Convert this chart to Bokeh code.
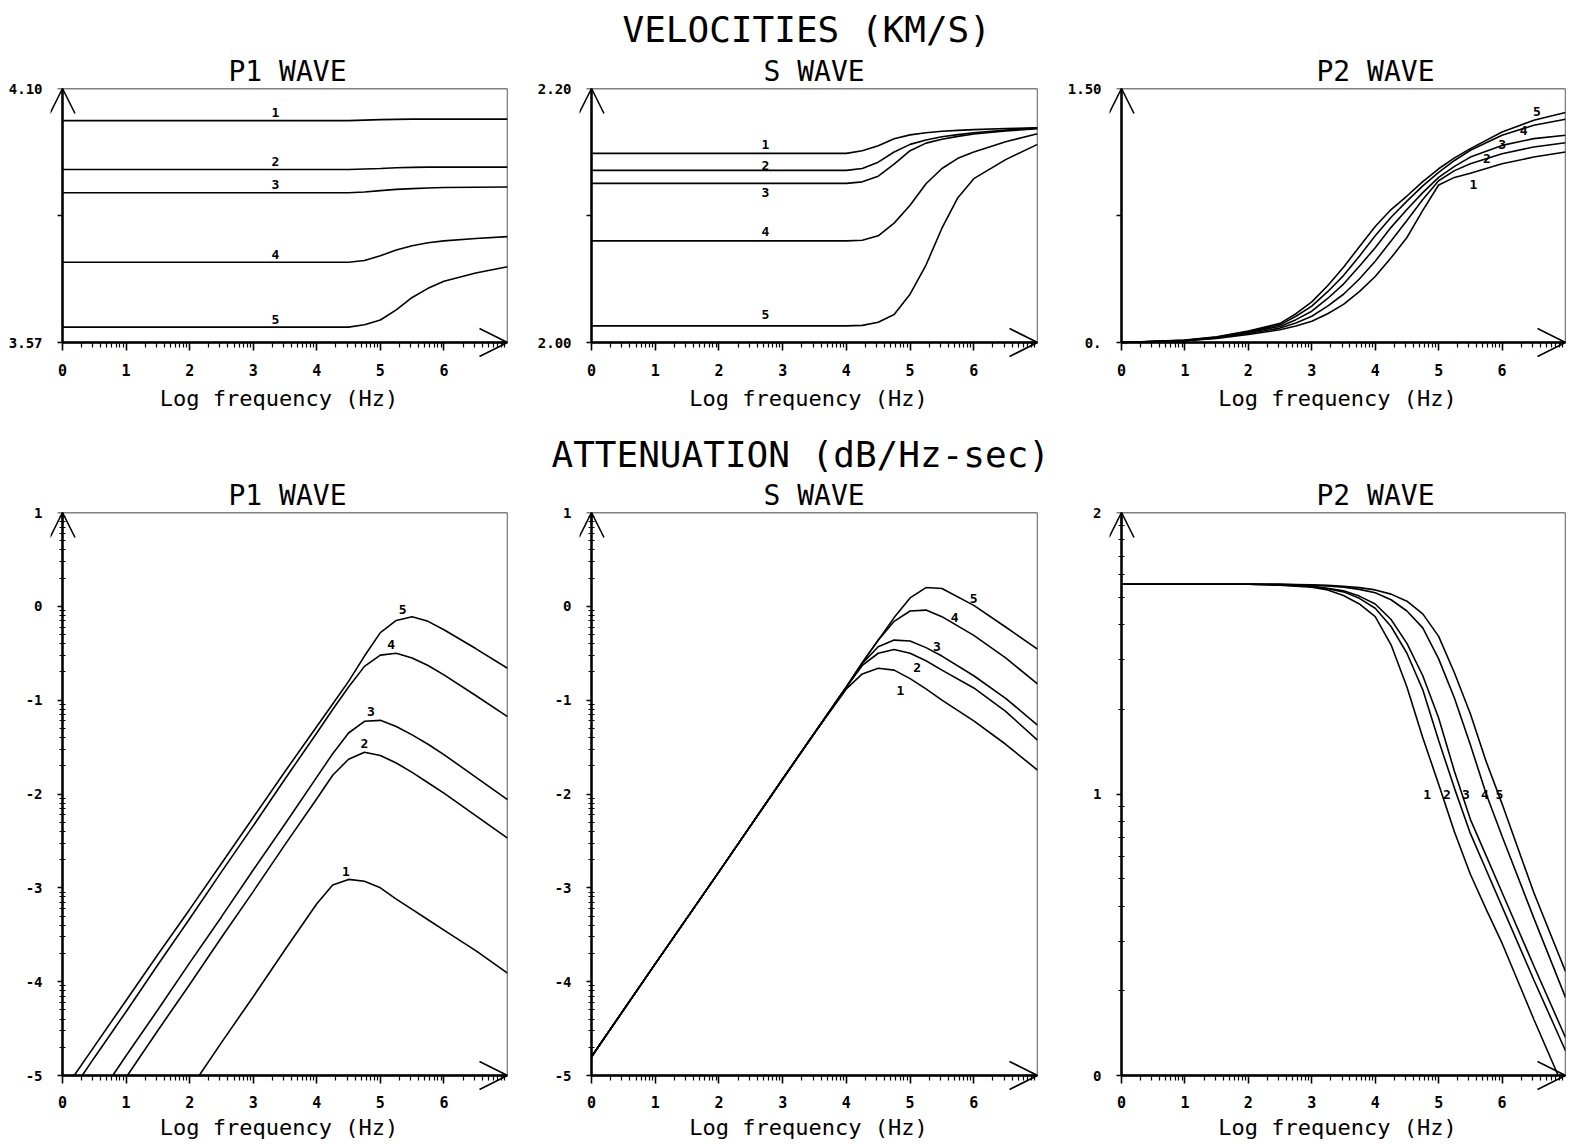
import math
from bokeh.plotting import figure
from bokeh.layouts import column, row
from bokeh.models import (Range1d, FixedTicker, Arrow, OpenHead, Title, LinearAxis,
                          ColumnDataSource, CustomJSTickFormatter)
from bokeh.core.properties import value
from bokeh.embed import file_html
from bokeh.resources import INLINE

NaN = float("nan")
FONT = "DejaVu Sans Mono"

# ---------------- data ----------------
curve_names = ["1", "2", "3", "4", "5"]
x_major = [0, 1, 2, 3, 4, 5, 6]
x_label = "Log frequency (Hz)"

# VELOCITIES (KM/S) - P1 wave
vp1_x = [0, 1, 2, 3, 4, 4.5, 4.75, 5.0, 5.25, 5.5, 5.75, 6.0, 6.5, 7.0]
vp1_1 = [4.033, 4.033, 4.033, 4.033, 4.033, 4.033, 4.034, 4.035, 4.0355, 4.036, 4.036, 4.036, 4.036, 4.036]
vp1_2 = [3.931, 3.931, 3.931, 3.931, 3.931, 3.931, 3.932, 3.933, 3.9345, 3.9355, 3.936, 3.936, 3.936, 3.936]
vp1_3 = [3.8826, 3.8826, 3.8826, 3.8826, 3.8826, 3.8826, 3.884, 3.887, 3.8895, 3.891, 3.8925, 3.8935, 3.894, 3.8945]
vp1_4 = [3.7374, 3.7374, 3.7374, 3.7374, 3.7374, 3.7374, 3.741, 3.751, 3.763, 3.772, 3.778, 3.782, 3.787, 3.791]
vp1_5 = [3.602, 3.602, 3.602, 3.602, 3.602, 3.602, 3.607, 3.617, 3.638, 3.664, 3.683, 3.698, 3.715, 3.728]
vp1_range = (3.57, 4.10)
vp1_tick_labels = ["3.57", "", "4.10"]

# VELOCITIES - S wave
vs_x = [0, 1, 2, 3, 4, 4.25, 4.5, 4.75, 5.0, 5.25, 5.5, 5.75, 6.0, 6.5, 7.0]
vs_1 = [2.1489, 2.1489, 2.1489, 2.1489, 2.1489, 2.151, 2.155, 2.1605, 2.1635, 2.1652, 2.1663, 2.167, 2.1676, 2.1685, 2.1691]
vs_2 = [2.1355, 2.1355, 2.1355, 2.1355, 2.1355, 2.137, 2.142, 2.150, 2.156, 2.1595, 2.162, 2.1637, 2.1652, 2.1672, 2.169]
vs_3 = [2.1253, 2.1253, 2.1253, 2.1253, 2.1253, 2.1265, 2.131, 2.1405, 2.151, 2.157, 2.160, 2.1623, 2.1642, 2.1665, 2.1683]
vs_4 = [2.080, 2.080, 2.080, 2.080, 2.080, 2.0805, 2.084, 2.094, 2.108, 2.125, 2.137, 2.145, 2.150, 2.158, 2.1644]
vs_5 = [2.0131, 2.0131, 2.0131, 2.0131, 2.0131, 2.0135, 2.016, 2.022, 2.038, 2.061, 2.090, 2.114, 2.129, 2.144, 2.156]
vs_range = (2.00, 2.20)
vs_tick_labels = ["2.00", "", "2.20"]

# VELOCITIES - P2 wave
vp2_x = [0, 1, 1.5, 2, 2.5, 2.75, 3, 3.25, 3.5, 3.75, 4, 4.25, 4.5, 4.75, 5, 5.25, 5.5, 6, 6.5, 7]
vp2_1 = [0, .010, .024, .047, .075, .097, .125, .17, .225, .30, .39, .50, .62, .78, .93, .975, 1.00, 1.056, 1.095, 1.125]
vp2_2 = [0, .011, .027, .053, .085, .115, .155, .215, .285, .375, .48, .60, .72, .845, .955, 1.015, 1.056, 1.115, 1.155, 1.18]
vp2_3 = [0, .012, .029, .060, .095, .135, .185, .26, .345, .45, .56, .68, .785, .885, .975, 1.04, 1.095, 1.164, 1.204, 1.224]
vp2_4 = [0, .013, .031, .064, .104, .155, .215, .30, .395, .51, .63, .74, .835, .925, 1.005, 1.075, 1.135, 1.224, 1.283, 1.318]
vp2_5 = [0, .014, .034, .068, .113, .17, .24, .335, .445, .565, .685, .785, .865, .95, 1.026, 1.09, 1.145, 1.243, 1.312, 1.358]
vp2_range = (0.0, 1.50)
vp2_tick_labels = ["0.", "", "1.50"]

# ATTENUATION (log10 dB/Hz-sec) - P1 wave
ap1_x = [0, 0.5, 1, 1.5, 2, 2.5, 3, 3.5, 4, 4.25, 4.5, 4.75, 5, 5.25, 5.5, 5.75, 6, 6.5, 7]
ap1_1 = [NaN, NaN, NaN, NaN, -5.15, -4.65, -4.16, -3.66, -3.17, -2.97, -2.91, -2.93, -3.00, -3.12, -3.23, -3.34, -3.45, -3.67, -3.91]
ap1_2 = [NaN, -5.50, -5.02, -4.52, -4.03, -3.53, -3.04, -2.54, -2.05, -1.80, -1.63, -1.555, -1.59, -1.67, -1.77, -1.88, -1.99, -2.23, -2.47]
ap1_3 = [-5.79, -5.29, -4.79, -4.30, -3.80, -3.31, -2.81, -2.32, -1.82, -1.57, -1.35, -1.225, -1.215, -1.28, -1.37, -1.47, -1.58, -1.82, -2.06]
ap1_4 = [-5.31, -4.81, -4.32, -3.82, -3.33, -2.83, -2.34, -1.84, -1.35, -1.10, -0.86, -0.64, -0.52, -0.50, -0.55, -0.63, -0.73, -0.95, -1.175]
ap1_5 = [-5.18, -4.69, -4.20, -3.71, -3.23, -2.74, -2.25, -1.76, -1.28, -1.04, -0.80, -0.53, -0.28, -0.15, -0.11, -0.16, -0.25, -0.45, -0.66]
ap1_range = (-5, 1)

# ATTENUATION - S wave
as_x = [0, 1, 2, 3, 3.5, 4, 4.25, 4.5, 4.75, 5, 5.25, 5.5, 6, 6.5, 7]
as_1 = [-4.80, -3.81, -2.83, -1.84, -1.35, -0.88, -0.72, -0.66, -0.68, -0.77, -0.88, -1.00, -1.22, -1.47, -1.745]
as_2 = [-4.80, -3.81, -2.83, -1.84, -1.35, -0.86, -0.63, -0.50, -0.46, -0.50, -0.58, -0.68, -0.87, -1.12, -1.425]
as_3 = [-4.80, -3.81, -2.83, -1.84, -1.35, -0.86, -0.61, -0.43, -0.36, -0.37, -0.44, -0.53, -0.74, -0.98, -1.265]
as_4 = [-4.80, -3.81, -2.83, -1.84, -1.35, -0.86, -0.60, -0.36, -0.16, -0.05, -0.04, -0.11, -0.31, -0.55, -0.827]
as_5 = [-4.80, -3.81, -2.83, -1.84, -1.35, -0.86, -0.60, -0.36, -0.12, 0.09, 0.20, 0.19, 0.01, -0.22, -0.457]
as_range = (-5, 1)

# ATTENUATION - P2 wave
ap2_x = [0, 1, 2, 2.5, 3, 3.25, 3.5, 3.75, 4, 4.25, 4.5, 4.75, 5, 5.25, 5.5, 5.75, 6, 6.5, 7]
ap2_1 = [1.745, 1.745, 1.745, 1.742, 1.735, 1.725, 1.705, 1.675, 1.63, 1.53, 1.38, 1.20, 1.035, 0.865, 0.715, 0.59, 0.47, 0.20, -0.06]
ap2_2 = [1.745, 1.745, 1.745, 1.743, 1.737, 1.729, 1.718, 1.695, 1.66, 1.595, 1.50, 1.37, 1.19, 1.02, 0.86, 0.73, 0.60, 0.34, 0.088]
ap2_3 = [1.745, 1.745, 1.745, 1.744, 1.738, 1.731, 1.722, 1.703, 1.675, 1.62, 1.535, 1.42, 1.27, 1.08, 0.91, 0.78, 0.65, 0.39, 0.135]
ap2_4 = [1.745, 1.745, 1.745, 1.745, 1.741, 1.739, 1.735, 1.727, 1.715, 1.69, 1.65, 1.59, 1.48, 1.34, 1.175, 1.0, 0.85, 0.56, 0.277]
ap2_5 = [1.745, 1.745, 1.745, 1.745, 1.743, 1.741, 1.738, 1.733, 1.725, 1.71, 1.685, 1.64, 1.56, 1.43, 1.285, 1.115, 0.965, 0.65, 0.37]
ap2_range = (0, 2)

# curve-label anchor x positions
vp1_lab_x = [3.35, 3.35, 3.35, 3.35, 3.35]
vs_lab_x = [2.73, 2.73, 2.73, 2.73, 2.73]
vp2_lab_x = [5.55, 5.76, 6.0, 6.34, 6.55]
ap1_lab_x = [4.46, 4.75, 4.85, 5.17, 5.35]
as_lab_x = [4.85, 5.11, 5.42, 5.70, 6.0]
ap2_lab_x = [4.82, 5.13, 5.43, 5.73, 5.96]
ap2_lab_y = [1.0, 1.0, 1.0, 1.0, 1.0]


def interp(x, xs, ys):
    pts = [(a, b) for a, b in zip(xs, ys) if not math.isnan(b)]
    for (x0, y0), (x1, y1) in zip(pts[:-1], pts[1:]):
        if x0 <= x <= x1:
            return y0 + (y1 - y0) * (x - x0) / (x1 - x0)
    return pts[-1][1]


def clip_below(xs, ys, ymin):
    """Cut a polyline at the lower edge of the plotting box."""
    ox, oy, prev = [], [], None
    for x, y in zip(xs, ys):
        if math.isnan(y):
            prev = None
            continue
        if prev is not None and (prev[1] < ymin) != (y < ymin):
            t = (ymin - prev[1]) / (y - prev[1])
            ox.append(prev[0] + t * (x - prev[0]))
            oy.append(ymin)
        if y >= ymin:
            ox.append(x)
            oy.append(y)
        prev = (x, y)
    return ox, oy


x_minor = [d + math.log10(m) for d in range(7) for m in range(2, 10)]


def log_minor(lo, hi):
    return [k + math.log10(m) for k in range(lo, hi) for m in range(2, 10)]


PAD_L = 12
PAD_B = 15


def blank_fmt():
    return CustomJSTickFormatter(code="return '';")


def make_panel(col, height, bt, bb, box_h, xs, curves, yr, yticks, yminor, yfmt,
               title, title_off, lab_x, lab_y, lab_up, tick_standoff, xlab_standoff,
               header=None):
    width, bl, br, box_w = col
    span = yr[1] - yr[0]
    x0 = -7.0 * PAD_L / box_w
    y0 = yr[0] - span * PAD_B / box_h
    p = figure(width=width, height=height, x_range=Range1d(x0, 7), y_range=Range1d(y0, yr[1]),
               output_backend="svg", toolbar_location=None, title_location=None,
               min_border_left=bl, min_border_right=br, min_border_top=bt, min_border_bottom=bb)
    p.grid.visible = False
    p.background_fill_color = "white"
    p.border_fill_color = "white"
    p.outline_line_color = None

    # plotting box (top and right edges)
    p.quad(left=[0], right=[7], bottom=[yr[0]], top=[yr[1]], fill_color=None,
           line_color="black", line_width=1.3)

    for ys in curves:
        cx, cy = clip_below(xs, ys, yr[0])
        p.line(cx, cy, line_color="black", line_width=1.6)

    src = ColumnDataSource(dict(x=lab_x, y=lab_y, t=curve_names, dy=[-d for d in lab_up]))
    p.text(x="x", y="y", text="t", y_offset="dy", source=src, text_align="center",
           text_baseline="middle", text_font=value(FONT), text_font_size="13px",
           text_font_style="bold", text_color="black")

    # label-only axes at the frame edges
    xa = p.xaxis[0]
    xa.ticker = FixedTicker(ticks=x_major)
    xa.axis_line_color = None
    xa.major_tick_line_color = None
    xa.minor_tick_line_color = None
    xa.major_tick_out = 0
    xa.major_tick_in = 0
    xa.minor_tick_out = 0
    xa.minor_tick_in = 0
    xa.major_label_text_font = FONT
    xa.major_label_text_font_size = "15px"
    xa.major_label_text_font_style = "bold"
    xa.major_label_text_color = "black"
    xa.major_label_standoff = tick_standoff
    xa.axis_label = x_label
    xa.axis_label_text_font = FONT
    xa.axis_label_text_font_size = "22px"
    xa.axis_label_text_font_style = "normal"
    xa.axis_label_text_color = "black"
    xa.axis_label_standoff = xlab_standoff

    ya = p.yaxis[0]
    ya.ticker = FixedTicker(ticks=yticks)
    ya.formatter = yfmt
    ya.axis_line_color = None
    ya.major_tick_line_color = None
    ya.minor_tick_line_color = None
    ya.major_tick_out = 0
    ya.major_tick_in = 0
    ya.minor_tick_out = 0
    ya.minor_tick_in = 0
    ya.major_label_text_font = FONT
    ya.major_label_text_font_size = "14px"
    ya.major_label_text_font_style = "bold"
    ya.major_label_text_color = "black"
    ya.major_label_standoff = 8

    # axis lines with ticks, drawn at the edges of the plotting box
    tx = LinearAxis(fixed_location=yr[0], bounds=(0, 7),
                    ticker=FixedTicker(ticks=x_major, minor_ticks=x_minor),
                    formatter=blank_fmt(), major_label_text_font_size="0px",
                    major_label_standoff=0, axis_line_width=2.5, axis_line_color="black",
                    major_tick_in=8, major_tick_out=0, minor_tick_in=5, minor_tick_out=0,
                    major_tick_line_width=1.6, minor_tick_line_width=1.2,
                    major_tick_line_color="black", minor_tick_line_color="black")
    p.add_layout(tx, "above")
    ty = LinearAxis(fixed_location=0, bounds=yr,
                    ticker=FixedTicker(ticks=yticks, minor_ticks=yminor),
                    formatter=blank_fmt(), major_label_text_font_size="0px",
                    major_label_standoff=0, axis_line_width=2.5, axis_line_color="black",
                    major_tick_in=5, major_tick_out=0, minor_tick_in=3, minor_tick_out=3,
                    major_tick_line_width=1.5, minor_tick_line_width=1.0,
                    major_tick_line_color="black", minor_tick_line_color="black")
    p.add_layout(ty, "right")

    p.add_layout(Arrow(end=OpenHead(size=25, line_width=1.6, line_color="black"),
                       x_start=0, y_start=yr[1] - 0.02 * span, x_end=0, y_end=yr[1],
                       line_width=1.6, line_color="black"))
    p.add_layout(Arrow(end=OpenHead(size=28, line_width=1.6, line_color="black"),
                       x_start=6.9, y_start=yr[0], x_end=7, y_end=yr[0],
                       line_width=1.6, line_color="black"))

    p.add_layout(Title(text=title, align="left", offset=title_off, standoff=2,
                       text_font=FONT, text_font_size="28px", text_font_style="normal",
                       text_color="black"), "above")
    if header is not None:
        htext, hoff, hstand = header
        p.add_layout(Title(text=htext, align="left", offset=hoff, standoff=hstand,
                           text_font=FONT, text_font_size="36px", text_font_style="normal",
                           text_color="black"), "above")
    return p


def vel_fmt(lo, hi, labels):
    mid = (lo + hi) / 2
    return CustomJSTickFormatter(args=dict(lo=lo, hi=hi, mid=mid, labels=labels), code="""
        if (Math.abs(tick - mid) < 1e-6) return labels[1];
        if (Math.abs(tick - lo) < 1e-6) return labels[0];
        return labels[2];
    """)


def int_fmt():
    return CustomJSTickFormatter(code="return tick.toFixed(0);")


# (figure width, left border, right border, box width)
cols = [(527, 50, 20, 445), (528, 52, 18, 446), (518, 54, 8, 444)]
title_offsets = [178, 184, 207]
TOP_H, TOP_BT, TOP_BOX = 415, 88, 254
BOT_H, BOT_BT, BOT_BOX = 728, 97, 563
TOP_BB = TOP_H - TOP_BT - TOP_BOX - PAD_B
BOT_BB = BOT_H - BOT_BT - BOT_BOX - PAD_B

# top row: velocities
top_specs = [
    (vp1_x, [vp1_1, vp1_2, vp1_3, vp1_4, vp1_5], vp1_range, vp1_tick_labels, "P1 WAVE",
     vp1_lab_x, [8, 8, 8, 8, 8], None),
    (vs_x, [vs_1, vs_2, vs_3, vs_4, vs_5], vs_range, vs_tick_labels, "S WAVE",
     vs_lab_x, [9, 5, -9, 9, 11], ("VELOCITIES (KM/S)", 43, 4)),
    (vp2_x, [vp2_1, vp2_2, vp2_3, vp2_4, vp2_5], vp2_range, vp2_tick_labels, "P2 WAVE",
     vp2_lab_x, [-12, 0, 1, -2, 8], None),
]
top = []
for col, toff, (xs, curves, yr, tl, title, lx, up, hdr) in zip(cols, title_offsets, top_specs):
    ly = [interp(x, xs, c) for x, c in zip(lx, curves)]
    mid = (yr[0] + yr[1]) / 2
    p = make_panel(col, TOP_H, TOP_BT, TOP_BB, TOP_BOX, xs, curves, yr,
                   [yr[0], mid, yr[1]], [], vel_fmt(yr[0], yr[1], tl), title, toff,
                   lx, ly, up, 6, 7, hdr)
    top.append(p)

# bottom row: attenuation
bot_specs = [
    (ap1_x, [ap1_1, ap1_2, ap1_3, ap1_4, ap1_5], ap1_range, "P1 WAVE", ap1_lab_x, None,
     [9, 9, 9, 9, 9], None),
    (as_x, [as_1, as_2, as_3, as_4, as_5], as_range, "S WAVE", as_lab_x, None,
     [-17, -11, 7, 7, 7], ("ATTENUATION (dB/Hz-sec)", -28, 2)),
    (ap2_x, [ap2_1, ap2_2, ap2_3, ap2_4, ap2_5], ap2_range, "P2 WAVE", ap2_lab_x, ap2_lab_y,
     [0, 0, 0, 0, 0], None),
]
bot = []
for col, toff, (xs, curves, yr, title, lx, ly, up, hdr) in zip(cols, title_offsets, bot_specs):
    if ly is None:
        ly = [interp(x, xs, c) for x, c in zip(lx, curves)]
    yt = list(range(yr[0], yr[1] + 1))
    p = make_panel(col, BOT_H, BOT_BT, BOT_BB, BOT_BOX, xs, curves, yr, yt,
                   log_minor(yr[0], yr[1]), int_fmt(), title, toff, lx, ly, up, 5, 4, hdr)
    bot.append(p)

layout = column(row(*top), row(*bot))
open("out.html", "w").write(file_html(layout, INLINE))
